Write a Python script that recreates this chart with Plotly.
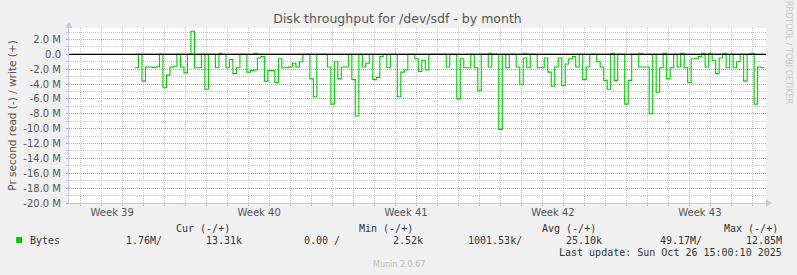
import plotly.graph_objects as go
import pandas as pd

# ---------------- data ----------------
START = "2025-09-26 14:00"
STEP_HOURS = 4
# read throughput (drawn negative), in MB/s
read_M = [
    -1.8, 0, -3.6, -1.7, -1.7, -1.75, -1.7, 0, -4.5, -2.8,
    -1.7, -1.6, 0, -1.7, -2.5, 0, 0, -1.8, -1.8, 0,
    -4.7, 0, 0, -1.8, 0, 0, -1.8, -0.7, -2.6, -1.8,
    0, 0, -2.4, -2.2, -2.1, -0.5, -0.3, -3.6, -2.2, -2.2,
    -3.8, -0.6, -1.8, -1.8, -1.7, -1.2, -1.7, -1.0, 0, 0,
    -3.3, -5.7, 0, 0, 0, -1.7, -6.7, -1.0, -3.3, -1.7,
    -1.7, 0, -3.4, -8.3, 0, -1.7, -1.2, 0, -3.4, -3.1,
    -0.3, 0, -1.8, 0, 0, -5.7, -2.4, -2.1, 0, 0,
    -0.6, -2.3, -0.8, -2.1, 0, 0, 0, 0, 0, -1.7,
    0, 0, -6.0, -0.6, -1.8, -1.8, 0, -1.8, -4.9, 0,
    0, -1.7, 0, 0, -10.1, 0, -1.8, 0, 0, -1.7,
    -4.1, -0.5, -1.8, 0, 0, -1.8, -1.8, -0.5, -2.4, -4.3,
    -1.7, -0.5, -4.2, -1.3, -0.6, -0.3, -1.7, 0, -3.4, -1.7,
    0, 0, -1.0, -1.7, -3.5, -4.7, 0, -3.5, 0, 0,
    -6.7, -3.5, 0, 0, -1.7, -1.7, -1.7, -8.0, 0, -5.1,
    -1.8, 0, -3.3, -1.8, 0, -1.7, 0, -1.8, -3.8, -0.6,
    -0.6, -0.3, 0, -1.7, 0, -0.8, -2.6, -0.5, 0, -1.8,
    0, -1.8, -1.0, 0, -3.6, 0, 0, -6.7, -1.7, -1.8,
    -1.8,
]
# write throughput (drawn positive), in MB/s
write_M = [
    0, 0, 0, 0, 0, 0, 0, 0, 0, 0,
    0, 0, 0, 0, 0, 0, 3.1, 0, 0, 0,
    0, 0, 0, 0, 0.15, 0, 0, 0, 0, 0,
    0, 0, 0, 0, 0.15, 0, 0, 0, 0, 0,
    0, 0, 0, 0, 0, 0, 0, 0, 0, 0,
    0, 0, 0, 0, 0, 0, 0, 0, 0, 0,
    0, 0, 0, 0, 0, 0, 0, 0, 0, 0,
    0, 0, 0, 0, 0, 0, 0, 0, 0, 0,
    0, 0, 0, 0, 0, 0, 0, 0, 0, 0,
    0, 0, 0, 0, 0, 0, 0, 0, 0, 0,
    0, 0.15, 0, 0, 0, 0, 0, 0, 0, 0,
    0, 0.15, 0, 0, 0, 0, 0, 0, 0, 0,
    0, 0, 0, 0, 0, 0, 0, 0, 0, 0,
    0, 0, 0, 0, 0, 0, 0.15, 0, 0, 0,
    0, 0, 0, 0, 0.15, 0, 0, 0, 0, 0,
    0, 0.15, 0, 0, 0, 0, 0.15, 0, 0, 0,
    0, 0, 0.15, 0, 0.15, 0, 0, 0, 0.15, 0,
    0, 0, 0, 0, 0, 0, 0.15, 0, 0, 0,
    0,
]
week_starts = ["2025-09-29", "2025-10-06", "2025-10-13", "2025-10-20"]
week_label_pos = ["2025-09-25 12:00", "2025-10-02 12:00", "2025-10-09 12:00",
                  "2025-10-16 12:00", "2025-10-23 12:00"]
week_labels = ["Week 39", "Week 40", "Week 41", "Week 42", "Week 43"]
y_tickvals = [2, 0, -2, -4, -6, -8, -10, -12, -14, -16, -18, -20]
y_ticktext = ["2.0 M", "0.0", "-2.0 M", "-4.0 M", "-6.0 M", "-8.0 M", "-10.0 M",
              "-12.0 M", "-14.0 M", "-16.0 M", "-18.0 M", "-20.0 M"]
x_range = ["2025-09-23 10:36", "2025-10-26 15:34"]
y_range = [-20, 3.54]

legend_headers = ["Cur (-/+)", "Min (-/+)", "Avg (-/+)", "Max (-/+)"]
legend_values = ["1.76M/", "13.31k", "0.00 /", "2.52k", "1001.53k/", "25.10k", "49.17M/", "12.85M"]
series_name = "Bytes"
last_update = "Last update: Sun Oct 26 15:00:10 2025"

# ---------------- layout geometry ----------------
W, H = 797, 275
L, R, T, B = 67, 31, 28, 72
PW, PH = W - L - R, H - T - B


def px(x):
    return (x - L) / PW


def py(y):
    return (H - B - y) / PH


times = pd.date_range(START, periods=len(read_M), freq=f"{STEP_HOURS}h")
GREEN = "#00CC00"
MINOR = "rgb(200,200,200)"
MAJOR = "rgb(228,150,150)"
AXIS = "rgb(200,200,235)"

fig = go.Figure()
fig.add_trace(go.Scatter(x=times, y=read_M, mode="lines", line=dict(color=GREEN, width=1.1, shape="hv"),
                         showlegend=False, hoverinfo="skip"))
fig.add_trace(go.Scatter(x=times, y=write_M, mode="lines", line=dict(color=GREEN, width=1.1, shape="hv"),
                         showlegend=False, hoverinfo="skip"))

shapes = []
for ws in week_starts:
    shapes.append(dict(type="line", xref="x", yref="paper", x0=ws, x1=ws, y0=0, y1=1,
                       line=dict(color=MAJOR, width=1, dash="1px,1px"), layer="below"))
# zero rule
shapes.append(dict(type="line", xref="paper", yref="y", x0=0, x1=1, y0=0, y1=0,
                   line=dict(color="black", width=1.3), layer="above"))
# axis arrows
shapes.append(dict(type="path", xref="paper", yref="paper",
                   path=f"M {px(63.5)} {py(28)} L {px(70.5)} {py(28)} L {px(67)} {py(21.5)} Z",
                   fillcolor=AXIS, line=dict(width=0)))
shapes.append(dict(type="path", xref="paper", yref="paper",
                   path=f"M {px(766)} {py(199.5)} L {px(766)} {py(206.5)} L {px(772.5)} {py(203)} Z",
                   fillcolor=AXIS, line=dict(width=0)))
# legend swatch
shapes.append(dict(type="rect", xref="paper", yref="paper", x0=px(14), x1=px(20), y0=py(243), y1=py(237),
                   fillcolor=GREEN, line=dict(width=0)))

annotations = []
MONO = "DejaVu Sans Mono"
TXT = "#333333"


def ann(text, x, y, xanchor="left", size=10, color=TXT, family=MONO, angle=0):
    annotations.append(dict(text=text, x=px(x), y=py(y), xref="paper", yref="paper", showarrow=False,
                            xanchor=xanchor, yanchor="middle", textangle=angle, borderpad=0,
                            font=dict(family=family, size=size, color=color)))


for hdr, xl in zip(legend_headers, [173, 357, 540, 723]):
    ann(hdr, xl, 228)
ann(series_name, 27, 240)
for v, xr in zip(legend_values, [161, 242, 340, 423, 522, 603, 703, 783]):
    ann(v, xr, 240, xanchor="right")
ann(last_update, 783, 252, xanchor="right")
ann("Munin 2.0.67", 398, 264, xanchor="center", size=8, color="#bbbbbb", family="DejaVu Sans")
ann("RRDTOOL / TOBI OETIKER", 789, 53, xanchor="center", size=8, color="#c4c4c4",
    family="DejaVu Sans", angle=90)

fig.update_layout(
    width=W, height=H, autosize=False,
    margin=dict(l=L, r=R, t=T, b=B, pad=0),
    paper_bgcolor="#F0F0F0", plot_bgcolor="white",
    title=dict(text="Disk throughput for /dev/sdf - by month", x=397.5 / W, xref="container", xanchor="center",
               y=1 - 19 / H, yref="container", yanchor="middle",
               font=dict(family="DejaVu Sans", size=12.5, color="#555555")),
    shapes=shapes, annotations=annotations,
    xaxis=dict(type="date", range=x_range, tickvals=week_label_pos, ticktext=week_labels,
               showgrid=False, ticks="", zeroline=False,
               tickfont=dict(family="DejaVu Sans", size=10, color="#555555"),
               showline=True, linecolor=AXIS, linewidth=1,
               minor=dict(dtick=86400000, tick0="2025-09-29", showgrid=True, gridcolor=MINOR,
                          griddash="1px,1px", gridwidth=1, ticks="outside", ticklen=2, tickcolor=MINOR)),
    yaxis=dict(range=y_range, tickvals=y_tickvals, ticktext=y_ticktext, showgrid=True,
               gridcolor=MAJOR, griddash="1px,1px", gridwidth=1, zeroline=False,
               ticks="outside", ticklen=2, tickcolor=MAJOR, ticklabelstandoff=3,
               tickfont=dict(family="DejaVu Sans", size=10, color="#555555"),
               showline=True, linecolor=AXIS, linewidth=1,
               title=dict(text="Pr second read (-) / write (+)", standoff=4,
                          font=dict(family="DejaVu Sans", size=10.5, color="#555555")),
               minor=dict(dtick=1, showgrid=True, gridcolor=MINOR, griddash="1px,1px", gridwidth=1,
                          ticks="outside", ticklen=2, tickcolor=MINOR)),
)

fig.write_html("out.html")
